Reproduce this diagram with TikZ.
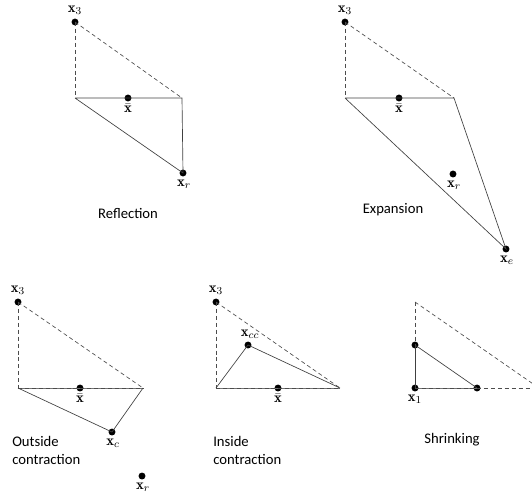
\documentclass[tikz,border=0pt]{standalone}
\usepackage{fontspec}
\newfontfamily\labfont{Carlito}
\usepackage{amsmath}
\begin{document}
\begin{tikzpicture}[x=0.75pt,y=-0.75pt,
  edge/.style={draw=black!75,line width=0.5pt},
  dashededge/.style={draw=black!70,line width=0.5pt,dash pattern=on 3pt off 2.2pt},
  baseedge/.style={draw=black!55,line width=0.6pt},
  vdot/.style={circle,fill=black,inner sep=0pt,minimum size=5.2pt},
  lab/.style={inner sep=0pt,font=\fontsize{11pt}{13pt}\selectfont},
  captext/.style={inner sep=0pt,font=\labfont\fontsize{11pt}{13.5pt}\selectfont}]
\useasboundingbox (0,0) rectangle (532,494);
\clip (0,0) rectangle (532,494);
% ---------- Reflection ----------
\node[vdot] (A1) at (75,22) {};
\coordinate (B1) at (75,98);
\coordinate (C1) at (182,98);
\node[vdot] (M1) at (128,98) {};
\node[vdot] (R1) at (183,173) {};
\draw[dashededge] (A1.center) -- (B1);
\draw[dashededge] (A1.center) -- (C1);
\draw[edge] (B1) -- (C1) -- (R1.center) -- (B1);
\node[lab] at (75,10) {$\mathbf{x}_3$};
\node[lab] at (128,108) {$\bar{\mathbf{x}}$};
\node[lab] at (184,184) {$\mathbf{x}_r$};
\node[captext] (t1) at (128,213) {Reflection};
% ---------- Expansion ----------
\node[vdot] (A2) at (345,22) {};
\coordinate (B2) at (345,98);
\coordinate (C2) at (454,98);
\node[vdot] (M2) at (399,98) {};
\node[vdot] (R2) at (453,174) {};
\node[vdot] (E2) at (506,249) {};
\draw[dashededge] (A2.center) -- (B2);
\draw[dashededge] (A2.center) -- (C2);
\draw[edge] (B2) -- (C2) -- (E2.center) -- (B2);
\node[lab] at (345,10) {$\mathbf{x}_3$};
\node[lab] at (399,108) {$\bar{\mathbf{x}}$};
\node[lab] at (454,185) {$\mathbf{x}_r$};
\node[lab] at (507,260) {$\mathbf{x}_e$};
\node[captext] (t2) at (393,210) {Expansion};
% ---------- Outside contraction ----------
\node[vdot] (A3) at (18,302) {};
\coordinate (B3) at (18,388);
\coordinate (C3) at (143,388);
\node[vdot] (M3) at (80,388) {};
\node[vdot] (X3) at (112,432) {};
\node[vdot] (R3) at (142,476) {};
\draw[dashededge] (A3.center) -- (B3);
\draw[dashededge] (A3.center) -- (C3);
\draw[baseedge] (B3) -- (C3);
\draw[dashededge] (B3) -- (C3);
\draw[edge] (B3) -- (X3.center) -- (C3);
\node[lab] at (18,290) {$\mathbf{x}_3$};
\node[lab] at (80,398) {$\bar{\mathbf{x}}$};
\node[lab] at (113,443) {$\mathbf{x}_c$};
\node[lab] at (143,487) {$\mathbf{x}_r$};
\node[captext,anchor=west] (t3a) at (12,441) {Outside};
\node[captext,anchor=west] (t3b) at (12,459) {contraction};
% ---------- Inside contraction ----------
\node[vdot] (A4) at (216,302) {};
\coordinate (B4) at (216,388);
\coordinate (C4) at (340,388);
\node[vdot] (M4) at (278,388) {};
\node[vdot] (X4) at (248,345) {};
\draw[dashededge] (A4.center) -- (B4);
\draw[dashededge] (A4.center) -- (C4);
\draw[baseedge] (B4) -- (C4);
\draw[dashededge] (B4) -- (C4);
\draw[edge] (B4) -- (X4.center) -- (C4);
\node[lab] at (216,290) {$\mathbf{x}_3$};
\node[lab] at (250,334) {$\mathbf{x}_{cc}$};
\node[lab] at (278,398) {$\bar{\mathbf{x}}$};
\node[captext,anchor=west] (t4a) at (213,441) {Inside};
\node[captext,anchor=west] (t4b) at (213,459) {contraction};
% ---------- Shrinking ----------
\coordinate (A5) at (415,302);
\node[vdot] (B5) at (415,388) {};
\node[vdot] (D5) at (415,345) {};
\node[vdot] (E5) at (477,388) {};
\coordinate (C5) at (539,388);
\draw[dashededge] (A5) -- (D5.center);
\draw[dashededge] (A5) -- (C5);
\draw[dashededge] (E5.center) -- (C5);
\draw[edge] (D5.center) -- (B5.center);
\draw[baseedge] (B5.center) -- (E5.center);
\draw[dashededge] (B5.center) -- (E5.center);
\draw[edge] (D5.center) -- (E5.center);
\node[lab] at (415,399) {$\mathbf{x}_1$};
\node[captext] (t5) at (452,440) {Shrinking};
\end{tikzpicture}
\end{document}
